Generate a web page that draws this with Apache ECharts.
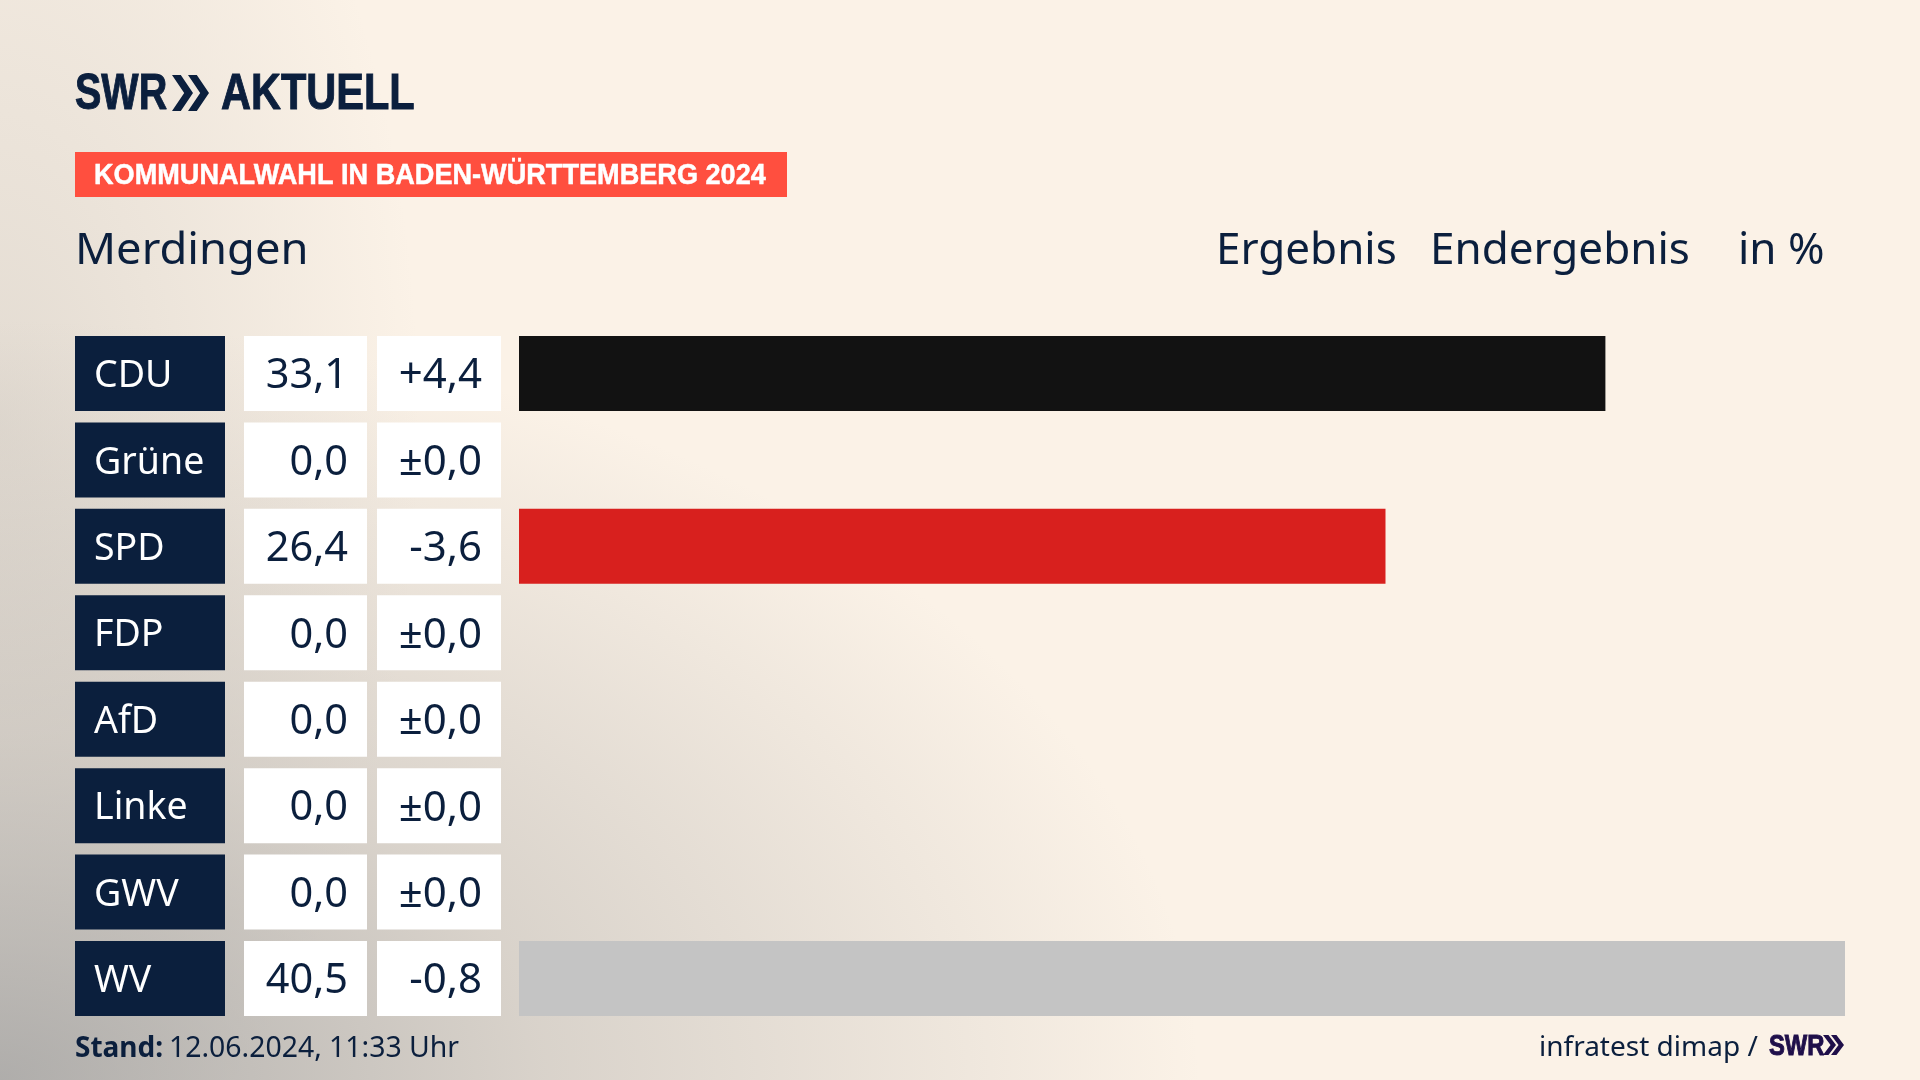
<!DOCTYPE html>
<html>
<head>
<meta charset="utf-8">
<title>Kommunalwahl Merdingen</title>
<script src="https://cdn.jsdelivr.net/npm/echarts@6/dist/echarts.min.js"></script>
<style>
  html, body { margin: 0; padding: 0; width: 100%; height: 100%; overflow: hidden; }
  body {
    background-color: #fbf2e7;
    background-image:
      radial-gradient(ellipse 1200px 760px at 0 1080px, rgba(155,155,155,0.78) 0, rgba(175,172,168,0.45) 45%, rgba(200,195,190,0) 100%),
      radial-gradient(ellipse 420px 800px at 0 420px, rgba(190,185,178,0.4) 0, rgba(200,195,190,0) 100%);
  }
  #chart { width: 1920px; height: 1080px; }
</style>
</head>
<body>
<div id="chart"></div>
<script>
const parties = ['CDU', 'Grüne', 'SPD', 'FDP', 'AfD', 'Linke', 'GWV', 'WV'];
const results = [33.1, 0.0, 26.4, 0.0, 0.0, 0.0, 0.0, 40.5];
const changes = ['+4,4', '±0,0', '-3,6', '±0,0', '±0,0', '±0,0', '±0,0', '-0,8'];
const barColors = ['#121212', '#4f9d2d', '#d8201e', '#f5d000', '#009ee0', '#be3075', '#c4c4c4', '#c4c4c4'];

const NAVY = '#0b1f3d';
const FONT = '"Noto Sans", sans-serif';
const HEAVY = '"Liberation Sans", sans-serif';

const chart = echarts.init(document.getElementById('chart'));

const fmtComma = v => v.toFixed(1).replace('.', ',');

// every column is its own grid so the rows line up
function column(idx, left, width, max) {
  return {
    grid: { left, width, top: 330.3, height: 691.4 },
    xAxis: { type: 'value', gridIndex: idx, min: 0, max, show: false },
    yAxis: { type: 'category', gridIndex: idx, data: parties, inverse: true, show: false }
  };
}

const cols = [column(0, 75, 150, 1), column(1, 244, 123, 1), column(2, 377, 124, 1), column(3, 519, 1326, 40.4)];

function cellSeries(idx, color, labelFn, pos, textColor, size) {
  return {
    type: 'bar',
    xAxisIndex: idx,
    yAxisIndex: idx,
    barWidth: 75,
    silent: true,
    data: parties.map(() => 1),
    itemStyle: { color },
    label: {
      show: true,
      position: pos,
      distance: 19,
      color: textColor,
      fontFamily: FONT,
      fontSize: size,
      offset: [0, 3],
      formatter: p => labelFn(p.dataIndex)
    }
  };
}

function text(x, y, str, font, fill, extra) {
  return Object.assign({
    type: 'text', x, y,
    style: { text: str, font, fill, verticalAlign: 'middle' }
  }, extra || {});
}

function heavy(x, y, str, size, fill, scaleX, stroke) {
  return {
    type: 'text', x, y, scaleX,
    style: { text: str, font: '700 ' + size + 'px ' + HEAVY, fill, stroke: fill, lineWidth: stroke, verticalAlign: 'middle' }
  };
}

function chevrons(x, y, h, w, gap, fill) {
  return [0, 1].map(i => ({
    type: 'polygon',
    shape: { points: [[x + i * gap, y], [x + i * gap + w * 0.42, y], [x + i * gap + w, y + h / 2], [x + i * gap + w * 0.42, y + h], [x + i * gap, y + h], [x + i * gap + w * 0.58, y + h / 2]] },
    style: { fill }
  }));
}

chart.setOption({
  animation: false,
  backgroundColor: 'transparent',
  grid: cols.map(c => c.grid),
  xAxis: cols.map(c => c.xAxis),
  yAxis: cols.map(c => c.yAxis),
  series: [
    cellSeries(0, NAVY, i => parties[i], 'insideLeft', '#ffffff', 37.5),
    cellSeries(1, '#ffffff', i => fmtComma(results[i]), 'insideRight', NAVY, 41.5),
    cellSeries(2, '#ffffff', i => changes[i], 'insideRight', NAVY, 42),
    {
      type: 'bar',
      xAxisIndex: 3,
      yAxisIndex: 3,
      barWidth: 75,
      silent: true,
      data: results.map((v, i) => ({ value: v, itemStyle: { color: barColors[i] } }))
    }
  ],
  graphic: [
    heavy(75, 95, 'SWR', 50, NAVY, 0.79, 1),
    ...chevrons(172, 75, 36, 21, 16, NAVY),
    heavy(221, 95, 'AKTUELL', 50, NAVY, 0.83, 1),
    { type: 'rect', shape: { x: 75, y: 152, width: 712, height: 45 }, style: { fill: '#ff4f3f' } },
    heavy(94, 176, 'KOMMUNALWAHL IN BADEN-WÜRTTEMBERG 2024', 29, '#ffffff', 0.935, 0.5),
    text(75, 251, 'Merdingen', '44px ' + FONT, NAVY, { scaleX: 1.03 }),
    text(1216, 251, 'Ergebnis', '44px ' + FONT, NAVY),
    text(1430, 251, 'Endergebnis', '44px ' + FONT, NAVY),
    text(1738, 251, 'in %', '44px ' + FONT, NAVY),
    text(75, 1049, 'Stand:', '700 28px ' + FONT, NAVY),
    text(169, 1049, '12.06.2024, 11:33 Uhr', '28.4px ' + FONT, NAVY),
    text(1539, 1048, 'infratest dimap /', '28px ' + FONT, NAVY),
    heavy(1769, 1047, 'SWR', 29, '#1f0f4a', 0.82, 1),
    ...chevrons(1823, 1035, 20, 13, 8, '#1f0f4a')
  ]
});
</script>
</body>
</html>
